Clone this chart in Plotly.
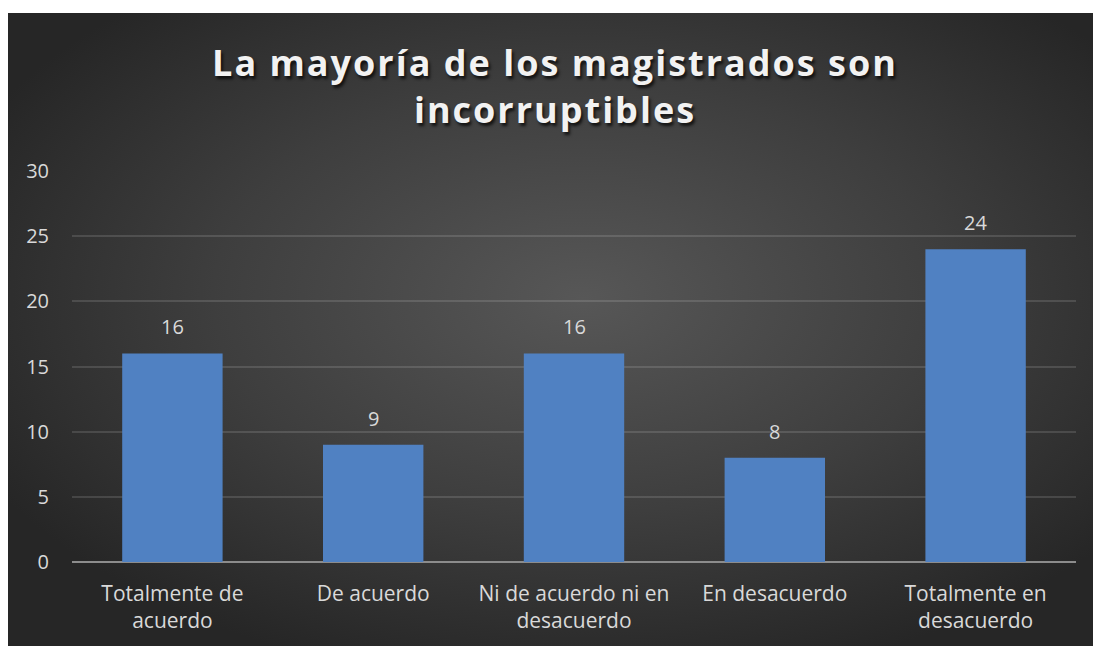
import base64
import plotly.graph_objects as go

categories = ["Totalmente de<br>acuerdo", "De acuerdo", "Ni de acuerdo ni en<br>desacuerdo",
              "En desacuerdo", "Totalmente en<br>desacuerdo"]
values = [16, 9, 16, 8, 24]
y_ticks = [0, 5, 10, 15, 20, 25, 30]
title_text = "La mayoría de los magistrados son<br>incorruptibles"

# body margin is removed in post_script, so the figure fills the window
W, H = 1093, 646
L, R, T, B = 72, 17, 171, 84
pw, ph = W - L - R, H - T - B

svg = '''<svg xmlns="http://www.w3.org/2000/svg" width="1085" height="633" viewBox="0 0 1085 633" preserveAspectRatio="none">
<defs><radialGradient id="g" cx="0.53" cy="0.45" r="0.62" gradientUnits="objectBoundingBox">
<stop offset="0" stop-color="#575757"/><stop offset="0.55" stop-color="#3e3e3e"/><stop offset="1" stop-color="#262626"/>
</radialGradient></defs><rect width="1085" height="633" fill="url(#g)"/></svg>'''
src = "data:image/svg+xml;base64," + base64.b64encode(svg.encode()).decode()


def px2x(p):
    return (p - L) / pw


def py2y(p):
    return (H - B - p) / ph


fig = go.Figure()
fig.add_trace(go.Bar(
    x=categories, y=values,
    marker=dict(color="#5081c2", line=dict(width=0)),
    width=0.5, hoverinfo="skip",
))

for c, v in zip(categories, values):
    fig.add_annotation(x=c, y=v, text=str(v), showarrow=False, yanchor="bottom",
                       yshift=11, font=dict(family="Open Sans", size=20, color="#d9d9d9"))

fig.add_layout_image(dict(
    source=src, xref="paper", yref="paper",
    x=px2x(8), y=py2y(13), sizex=px2x(W) - px2x(8), sizey=py2y(13) - py2y(H),
    xanchor="left", yanchor="top", sizing="stretch", layer="below",
))

fig.update_layout(
    width=W, height=H,
    margin=dict(l=L, r=R, t=T, b=B),
    paper_bgcolor="white", plot_bgcolor="rgba(0,0,0,0)",
    showlegend=False,
    title=dict(text=title_text, x=555 / W, xanchor="center", y=1 - 76 / H, yanchor="middle",
               font=dict(family="Open Sans", size=36, weight="bold", color="#f2f2f2",
                         shadow="2px 3px 3px rgba(0,0,0,0.7)")),
    xaxis=dict(showgrid=False, showline=False, ticks="", ticklabelstandoff=17,
               tickfont=dict(family="Open Sans", size=21, color="#d9d9d9")),
    yaxis=dict(range=[0, 30], tickvals=y_ticks, showgrid=True,
               gridcolor="rgba(255,255,255,0.13)", gridwidth=1.5,
               zeroline=True, zerolinecolor="#8c8c8c", zerolinewidth=2,
               showline=False, ticks="", ticklabelstandoff=22,
               tickfont=dict(family="Open Sans", size=20, color="#d9d9d9")),
)

post = ("document.body.style.margin='0';document.body.style.overflow='hidden';"
        "document.querySelectorAll('.gtitle').forEach(function(e){e.style.letterSpacing='2px';});")
fig.write_html("out.html", post_script=post, config={"displayModeBar": False})
